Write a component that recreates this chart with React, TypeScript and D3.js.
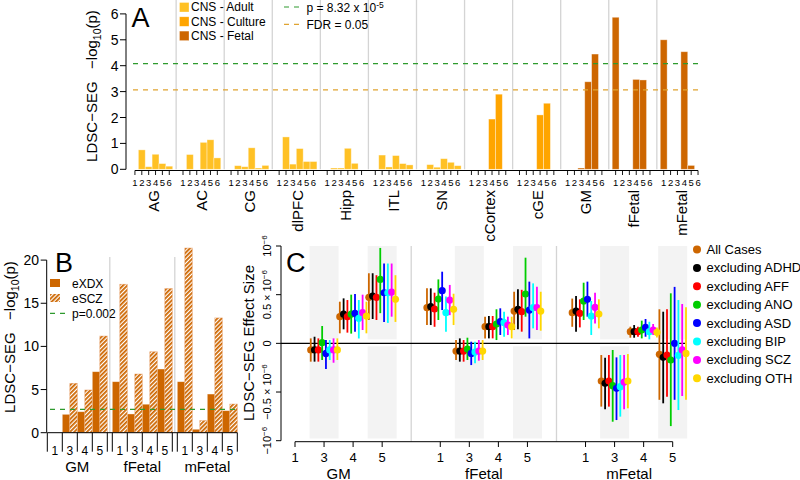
import React from "react";
import * as d3 from "d3";

// ---------------- Panel A data ----------------
const regionsA = ["AG", "AC", "CG", "dlPFC", "Hipp", "ITL", "SN", "cCortex", "cGE", "GM", "fFetal", "mFetal"];
const regionTypeA = ["Adult", "Adult", "Adult", "Adult", "Adult", "Adult", "Adult", "Culture", "Culture", "Fetal", "Fetal", "Fetal"];
const stagesA = ["1", "2", "3", "4", "5", "6"];
const ldscA = [
  [0, 0.75, 0.1, 0.58, 0.22, 0.12],
  [0, 0.57, 0, 1.04, 1.14, 0.44],
  [0, 0.14, 0.1, 0.83, 0.05, 0.15],
  [0, 1.25, 0.2, 0.8, 0.3, 0.3],
  [0, 0.05, 0.05, 0.81, 0.23, 0],
  [0, 0.55, 0.09, 0.53, 0.22, 0.17],
  [0, 0.18, 0.08, 0.41, 0.27, 0.14],
  [0, 0, 0, 1.94, 2.9, 0],
  [0, 0, 0, 2.1, 2.55, 0],
  [0, 0, 0.05, 3.38, 4.45, 0],
  [5.87, 0, 0, 3.47, 3.45, 0],
  [5.0, 0, 0, 4.54, 0.15, 0],
];
const ticksA = [0, 1, 2, 3, 4, 5, 6];
const legendTypesA = ["Adult", "Culture", "Fetal"];
const pBonfA = 8.32e-5;
const fdrA = 3.07;

// ---------------- Panel B data ----------------
const groupsB = ["GM", "fFetal", "mFetal"];
const stagesB = ["1", "3", "4", "5"];
const eXDX = [
  [0, 2.13, 2.43, 7.07],
  [5.91, 2.17, 3.3, 7.38],
  [5.91, 0.4, 4.48, 2.55],
];
const eSCZ = [
  [0, 5.72, 4.95, 11.2],
  [17.2, 6.8, 9.38, 16.7],
  [21.4, 1.4, 13.3, 3.32],
];
const ticksB = [0, 5, 10, 15, 20];
const pB = 0.002;

// ---------------- Panel C data ----------------
const groupsC = ["GM", "fFetal", "mFetal"];
const stagesC = ["1", "3", "4", "5"];
const slotGroupC = [0, 0, 0, 1, 1, 1, 1, 2, 2, 2, 2];
const slotStageC = [1, 2, 3, 0, 1, 2, 3, 0, 1, 2, 3];
const seriesC = ["All Cases", "excluding ADHD", "excluding AFF", "excluding ANO", "excluding ASD", "excluding BIP", "excluding SCZ", "excluding OTH"];
const colorsC = ["#CD6600", "#000000", "#FF0000", "#00CD00", "#0000FF", "#00FFFF", "#FF00FF", "#FFD700"];
// values in units of 1e-6
const estC = [
  [-0.068, 0.274, 0.473, 0.366, -0.079, 0.171, 0.332, 0.315, -0.387, 0.12, -0.113],
  [-0.068, 0.3, 0.486, 0.377, -0.079, 0.171, 0.349, 0.332, -0.411, 0.12, -0.144],
  [-0.068, 0.274, 0.473, 0.353, -0.079, 0.171, 0.325, 0.308, -0.387, 0.12, -0.12],
  [0.007, 0.3, 0.657, 0.455, -0.058, 0.199, 0.507, 0.435, -0.435, 0.137, -0.171],
  [-0.103, 0.308, 0.52, 0.541, -0.103, 0.223, 0.342, 0.452, -0.462, 0.164, 0.0],
  [-0.068, 0.257, 0.52, 0.315, -0.089, 0.212, 0.366, 0.281, -0.445, 0.12, -0.123],
  [-0.068, 0.315, 0.527, 0.445, -0.079, 0.188, 0.366, 0.37, -0.397, 0.137, -0.068],
  [-0.068, 0.28, 0.452, 0.35, -0.079, 0.171, 0.332, 0.301, -0.387, 0.113, -0.103],
];
const loC = [
  [-0.188, 0.103, 0.24, 0.188, -0.171, 0.051, 0.137, 0.17, -0.65, 0.058, -0.58],
  [-0.188, 0.144, 0.25, 0.188, -0.188, 0.051, 0.144, 0.12, -0.678, 0.058, -0.616],
  [-0.188, 0.11, 0.24, 0.17, -0.188, 0.051, 0.12, 0.164, -0.65, 0.068, -0.548],
  [-0.171, 0.1, 0.31, 0.24, -0.171, 0.034, 0.274, 0.24, -0.805, 0.051, -0.85],
  [-0.264, 0.12, 0.22, 0.342, -0.223, 0.086, 0.051, 0.274, -0.788, 0.068, -0.58],
  [-0.171, 0.05, 0.21, 0.12, -0.205, 0.068, 0.154, 0.086, -0.753, 0.041, -0.685],
  [-0.199, 0.137, 0.274, 0.29, -0.178, 0.086, 0.137, 0.205, -0.678, 0.086, -0.541],
  [-0.171, 0.103, 0.22, 0.188, -0.171, 0.051, 0.13, 0.154, -0.667, 0.061, -0.58],
];
const hiC = [
  [0.051, 0.428, 0.72, 0.565, 0.034, 0.274, 0.53, 0.46, -0.12, 0.171, 0.35],
  [0.068, 0.462, 0.72, 0.565, 0.051, 0.281, 0.555, 0.486, -0.147, 0.188, 0.325],
  [0.051, 0.445, 0.7, 0.52, 0.034, 0.281, 0.55, 0.452, -0.12, 0.171, 0.35],
  [0.178, 0.5, 0.98, 0.657, 0.058, 0.35, 0.88, 0.623, -0.068, 0.233, 0.514],
  [0.034, 0.507, 0.82, 0.736, 0.017, 0.36, 0.634, 0.634, -0.144, 0.25, 0.58],
  [0.034, 0.445, 0.82, 0.48, 0.017, 0.325, 0.616, 0.435, -0.12, 0.222, 0.445],
  [0.051, 0.5, 0.82, 0.6, 0.034, 0.274, 0.582, 0.521, -0.12, 0.199, 0.404],
  [0.051, 0.428, 0.7, 0.51, 0.034, 0.274, 0.53, 0.452, -0.11, 0.164, 0.37],
];
const ticksC = [-1, -0.5, 0, 0.5, 1];

const FONT = "'Liberation Sans', Arial, Helvetica, sans-serif";
const typeColor: Record<string, string> = { Adult: "#FFC125", Culture: "#FFA500", Fetal: "#CD6600" };
const SEP = "#d4d4d4";
const GREEN = "#2E9A2E";
const GOLD = "#E0A431";

function sciLabel(v: number) {
  if (v === 0) return <tspan>0</tspan>;
  const neg = v < 0 ? "−" : "";
  const a = Math.abs(v);
  if (a === 1)
    return (
      <>
        <tspan>{neg}10</tspan>
        <tspan dy={-4} fontSize={8}>−6</tspan>
      </>
    );
  return (
    <>
      <tspan>{neg}0.5 × 10</tspan>
      <tspan dy={-4} fontSize={8}>−6</tspan>
    </>
  );
}

export default function App() {
  // ---- A scales ----
  const pitchA = 48.07;
  const unitA = pitchA / 7;
  const xA = d3.scaleLinear().domain([0, 1]).range([131.5, 131.5 + unitA]); // bar units
  const yA = d3.scaleLinear().domain([0, 6]).range([169.3, 13.9]);
  const barsA: any[] = [];
  regionsA.forEach((r, g) => {
    ldscA[g].forEach((v, i) => {
      barsA.push({ g, i, v, type: regionTypeA[g] });
    });
  });

  // ---- B scales ----
  const groupUnitsB = 8 + 2 / 3;
  const xB = d3.scaleLinear().domain([0, 1]).range([47.3, 54.8]);
  const yB = d3.scaleLinear().domain([0, 20]).range([432.7, 260.1]);

  // ---- C scales ----
  const xC = d3.scaleLinear().domain([0, 13]).range([295, 672.7]);
  const yC = d3.scaleLinear().domain([-1, 1]).range([440.7, 246]);
  const slotX = (j: number) => xC(slotGroupC[j] * 5 + slotStageC[j]);
  const offC = 3.8;

  return (
    <svg width={800} height={480} style={{ position: "absolute", left: 0, top: 0, fontFamily: FONT }}>
      <defs>
        <pattern id="hatch" patternUnits="userSpaceOnUse" width={3} height={3} patternTransform="rotate(45)">
          <rect width={3} height={3} fill="#ffffff" />
          <line x1={0.9} y1={0} x2={0.9} y2={3} stroke="#CD6600" strokeWidth={1.8} />
        </pattern>
      </defs>
      <rect width={800} height={480} fill="#fff" />

      {/* ================= Panel A ================= */}
      {regionsA.slice(1).map((r, k) => {
        const x = xA((k + 1) * 7 - 0.5);
        return <line key={"sepA" + k} x1={x} x2={x} y1={0} y2={169.3} stroke={SEP} strokeWidth={1.3} />;
      })}
      {barsA.map((b, k) =>
        b.v > 0 ? (
          <rect
            key={"barA" + k}
            x={xA(b.g * 7 + b.i)}
            y={yA(b.v)}
            width={unitA}
            height={yA(0) - yA(b.v)}
            fill={typeColor[b.type]}
            stroke="rgba(255,255,255,0.45)"
            strokeWidth={0.8}
          />
        ) : null
      )}
      <line x1={133} x2={703} y1={yA(-Math.log10(pBonfA))} y2={yA(-Math.log10(pBonfA))} stroke={GREEN} strokeDasharray="5,5" strokeWidth={1.2} />
      <line x1={133} x2={703} y1={yA(fdrA)} y2={yA(fdrA)} stroke={GOLD} strokeDasharray="5,5" strokeWidth={1.2} />
      {/* y axis */}
      <line x1={126} x2={126} y1={yA(0)} y2={yA(6)} stroke="#000" />
      {ticksA.map((t) => (
        <g key={"tA" + t}>
          <line x1={120} x2={126} y1={yA(t)} y2={yA(t)} stroke="#000" />
          <text x={118.5} y={yA(t)} dy="0.36em" textAnchor="end" fontSize={14}>
            {t}
          </text>
        </g>
      ))}
      <text transform={`translate(97,86) rotate(-90)`} textAnchor="middle" fontSize={15} style={{ whiteSpace: "pre" }}>
        {"LDSC−SEG   −log"}
        <tspan fontSize={10.5} dy={4}>10</tspan>
        <tspan dy={-4}>(p)</tspan>
      </text>
      {/* x axis */}
      <line x1={xA(0.5)} x2={xA(11 * 7 + 5.5)} y1={170.5} y2={170.5} stroke="#000" />
      {barsA.map((b, k) => (
        <g key={"xtA" + k}>
          <line x1={xA(b.g * 7 + b.i + 0.5)} x2={xA(b.g * 7 + b.i + 0.5)} y1={170.5} y2={175} stroke="#000" strokeWidth={0.9} />
          <text x={xA(b.g * 7 + b.i + 0.5)} y={185.5} textAnchor="middle" fontSize={9.5}>
            {stagesA[b.i]}
          </text>
        </g>
      ))}
      {regionsA.map((r, g) => (
        <text key={"rA" + r} transform={`translate(${xA(g * 7 + 3) + 6.5},190) rotate(-90)`} textAnchor="end" fontSize={15}>
          {r}
        </text>
      ))}
      <text x={131.5} y={27} fontSize={27}>A</text>
      {/* legend A */}
      {legendTypesA.map((t, i) => (
        <g key={"lgA" + t}>
          <rect x={179.5} y={2.5 + i * 14.3} width={9.5} height={9.5} fill={typeColor[t]} stroke="rgba(255,255,255,0.5)" strokeWidth={0.6} />
          <text x={191} y={11.3 + i * 14.3} fontSize={12}>
            {"CNS - " + t}
          </text>
        </g>
      ))}
      <line x1={284} x2={302} y1={7} y2={7} stroke={GREEN} strokeDasharray="5,5" strokeWidth={1.2} />
      <text x={306.5} y={12} fontSize={12}>
        p = 8.32 x 10<tspan dy={-4.5} fontSize={8.5}>-5</tspan>
      </text>
      <line x1={284} x2={302} y1={24.3} y2={24.3} stroke={GOLD} strokeDasharray="5,5" strokeWidth={1.2} />
      <text x={306.5} y={28.7} fontSize={12}>FDR = 0.05</text>

      {/* ================= Panel B ================= */}
      {[1, 2].map((g) => {
        const x = xB(g * groupUnitsB - 1 / 3);
        return <line key={"sepB" + g} x1={x} x2={x} y1={257} y2={432.7} stroke={SEP} strokeWidth={1.3} />;
      })}
      {groupsB.map((grp, g) =>
        stagesB.map((s, p) => {
          const u = g * groupUnitsB + p * 2;
          const a = eXDX[g][p];
          const b = eSCZ[g][p];
          return (
            <g key={"bB" + g + p}>
              {a > 0 && (
                <rect x={xB(u)} y={yB(a)} width={xB(1) - xB(0)} height={yB(0) - yB(a)} fill="#CD6600" stroke="rgba(255,255,255,0.5)" strokeWidth={0.7} />
              )}
              {b > 0 && (
                <rect x={xB(u + 1)} y={yB(b)} width={xB(1) - xB(0)} height={yB(0) - yB(b)} fill="url(#hatch)" stroke="rgba(230,150,90,0.6)" strokeWidth={0.7} />
              )}
            </g>
          );
        })
      )}
      <line x1={50} x2={237} y1={yB(-Math.log10(pB))} y2={yB(-Math.log10(pB))} stroke={GREEN} strokeDasharray="5,5" strokeWidth={1.2} />
      <line x1={46.7} x2={46.7} y1={yB(0)} y2={yB(20)} stroke="#000" />
      {ticksB.map((t) => (
        <g key={"tB" + t}>
          <line x1={40.7} x2={46.7} y1={yB(t)} y2={yB(t)} stroke="#000" />
          <text x={39} y={yB(t)} dy="0.36em" textAnchor="end" fontSize={14}>
            {t}
          </text>
        </g>
      ))}
      <text transform={`translate(15,337) rotate(-90)`} textAnchor="middle" fontSize={15} style={{ whiteSpace: "pre" }}>
        {"LDSC−SEG   −log"}
        <tspan fontSize={10.5} dy={4}>10</tspan>
        <tspan dy={-4}>(p)</tspan>
      </text>
      <line x1={xB(0)} x2={xB(2 * groupUnitsB + 8)} y1={yB(0)} y2={yB(0)} stroke="#000" />
      {groupsB.map((grp, g) => (
        <g key={"xB" + g}>
          {[0, 1, 2, 3, 4].map((p) => {
            const x = xB(g * groupUnitsB + p * 2);
            return <line key={"tkB" + p} x1={x} x2={x} y1={yB(0)} y2={451.7} stroke="#000" />;
          })}
          {stagesB.map((s, p) => (
            <text key={"slB" + p} x={xB(g * groupUnitsB + p * 2 + 1)} y={455} textAnchor="middle" fontSize={12}>
              {s}
            </text>
          ))}
          <text x={xB(g * groupUnitsB + 4)} y={472} textAnchor="middle" fontSize={15}>
            {grp}
          </text>
        </g>
      ))}
      <text x={55} y={272} fontSize={27}>B</text>
      <rect x={50} y={279} width={10} height={8} fill="#CD6600" />
      <text x={72} y={287.5} fontSize={12}>eXDX</text>
      <rect x={50} y={294} width={10} height={8} fill="url(#hatch)" />
      <text x={72} y={302.5} fontSize={12}>eSCZ</text>
      <line x1={50} x2={70} y1={313.3} y2={313.3} stroke={GREEN} strokeDasharray="5,5" strokeWidth={1.2} />
      <text x={72} y={318} fontSize={12}>p=0.002</text>

      {/* ================= Panel C ================= */}
      {[1, 3, 6, 8, 11, 13].map((s) => (
        <g key={"bandC" + s}>
          <rect x={xC(s) - 14.5} y={246} width={29} height={yC(0) - 4 - 246} fill="#f3f3f3" />
          <rect x={xC(s) - 14.5} y={yC(0) + 3} width={29} height={438.5 - yC(0) - 3} fill="#f3f3f3" />
        </g>
      ))}
      {[4, 9].map((s) => (
        <line key={"sepC" + s} x1={xC(s)} x2={xC(s)} y1={246} y2={441.7} stroke={SEP} strokeWidth={1.3} />
      ))}
      <line x1={281} x2={685} y1={yC(0)} y2={yC(0)} stroke="#000" strokeWidth={1.2} />
      {seriesC.map((name, k) => (
        <g key={"serC" + k}>
          {estC[k].map((v, j) => {
            const x = slotX(j) + (k - 3.5) * offC;
            return (
              <g key={"ptC" + j}>
                <line x1={x} x2={x} y1={yC(loC[k][j])} y2={yC(hiC[k][j])} stroke={colorsC[k]} strokeWidth={1.8} />
                <circle cx={x} cy={yC(v)} r={3.6} fill={colorsC[k]} />
              </g>
            );
          })}
        </g>
      ))}
      {/* y axis C */}
      <line x1={281} x2={281} y1={yC(-1)} y2={yC(1)} stroke="#000" />
      {ticksC.map((t) => (
        <g key={"tC" + t}>
          <line x1={276} x2={281} y1={yC(t)} y2={yC(t)} stroke="#000" />
          <text transform={`translate(271,${yC(t)}) rotate(-90)`} textAnchor="middle" fontSize={11}>
            {sciLabel(t)}
          </text>
        </g>
      ))}
      <text transform={`translate(254,343) rotate(-90)`} textAnchor="middle" fontSize={15}>
        LDSC−SEG Effect Size
      </text>
      {/* x axis C */}
      <line x1={xC(0)} x2={xC(13)} y1={441.7} y2={441.7} stroke="#000" />
      {groupsC.map((grp, g) => (
        <g key={"xC" + g}>
          {stagesC.map((s, p) => (
            <g key={"tkC" + p}>
              <line x1={xC(g * 5 + p)} x2={xC(g * 5 + p)} y1={441.7} y2={447} stroke="#000" />
              <text x={xC(g * 5 + p)} y={461.5} textAnchor="middle" fontSize={13}>
                {s}
              </text>
            </g>
          ))}
          <text x={xC(g * 5 + 1.5)} y={478.5} textAnchor="middle" fontSize={15}>
            {grp}
          </text>
        </g>
      ))}
      <text x={286} y={271.5} fontSize={27}>C</text>
      {seriesC.map((name, k) => (
        <g key={"lgC" + k}>
          <circle cx={697} cy={249.5 + k * 18.4} r={4} fill={colorsC[k]} />
          <text x={706.5} y={254 + k * 18.4} fontSize={13}>
            {name}
          </text>
        </g>
      ))}
    </svg>
  );
}
